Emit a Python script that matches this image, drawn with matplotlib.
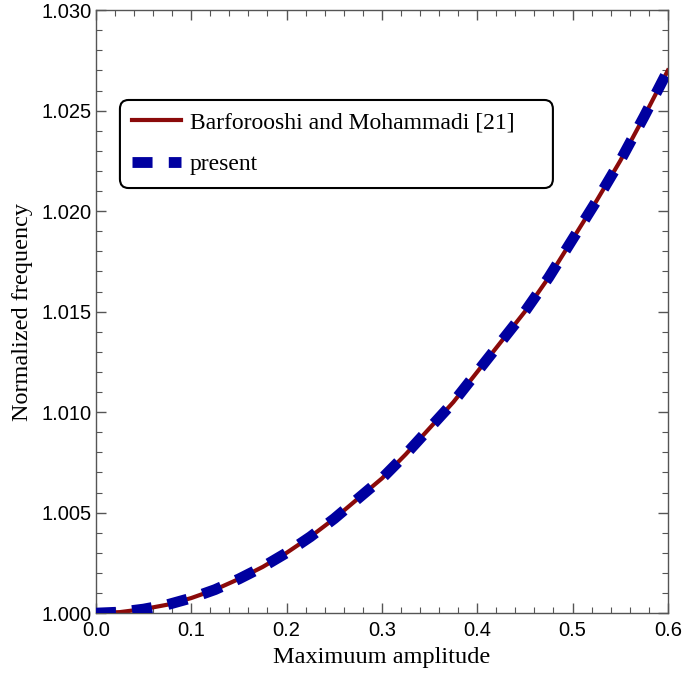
import matplotlib
matplotlib.use("Agg")
import matplotlib.pyplot as plt
from matplotlib.patches import FancyBboxPatch
from matplotlib.ticker import MultipleLocator, FormatStrFormatter

amplitude = [0.0, 0.025, 0.05, 0.075, 0.1, 0.125, 0.15, 0.175, 0.2, 0.225, 0.25, 0.275,
             0.3, 0.325, 0.35, 0.375, 0.4, 0.425, 0.45, 0.475, 0.5, 0.525, 0.55, 0.575, 0.6]
freq_ref = [1.0000, 1.00005, 1.0002, 1.00042, 1.00075, 1.00117, 1.0017, 1.0023, 1.0030,
            1.0038, 1.0047, 1.0057, 1.0067, 1.0079, 1.0092, 1.0105, 1.0120, 1.0135,
            1.0150, 1.0167, 1.0186, 1.0205, 1.0225, 1.0247, 1.0270]
freq_present = list(freq_ref)

label_ref = "Barforooshi and Mohammadi [21]"
label_present = "present"

fig = plt.figure(figsize=(6.85, 6.76), dpi=100)
ax = fig.add_axes([0.140, 0.093, 0.835, 0.892])

ax.plot(amplitude, freq_ref, color="#8b0a0a", lw=3.0, label=label_ref, zorder=2)
ax.plot(amplitude, freq_present, color="#0000a0", lw=7.8, ls=(0, (1.85, 1.5)),
        dash_capstyle="butt", label=label_present, zorder=3)

ax.set_xlim(0, 0.6)
ax.set_ylim(1.0, 1.03)
ax.xaxis.set_major_locator(MultipleLocator(0.1))
ax.xaxis.set_minor_locator(MultipleLocator(0.02))
ax.yaxis.set_major_locator(MultipleLocator(0.005))
ax.yaxis.set_minor_locator(MultipleLocator(0.001))
ax.xaxis.set_major_formatter(FormatStrFormatter("%.1f"))
ax.yaxis.set_major_formatter(FormatStrFormatter("%.3f"))

ax.tick_params(which="both", direction="in", top=True, right=True, color="#555555")
ax.tick_params(which="major", length=7, width=1.0, labelsize=14.5)
ax.tick_params(axis="x", which="major", pad=6)
ax.tick_params(axis="y", which="major", pad=3)
ax.tick_params(which="minor", length=4, width=0.8)
for lab in ax.get_xticklabels() + ax.get_yticklabels():
    lab.set_family("Liberation Sans")
for s in ax.spines.values():
    s.set_color("#555555")
    s.set_linewidth(1.0)

ax.set_xlabel("Maximuum amplitude", family="Liberation Serif", fontsize=17.5, labelpad=5)
ax.set_ylabel("Normalized frequency", family="Liberation Serif", fontsize=17.5, labelpad=6)

# legend frame (rounded box, wider than the entries as in the reference)
frame = FancyBboxPatch((0.042, 0.705), 0.757, 0.146, transform=ax.transAxes,
                       boxstyle="round,pad=0,rounding_size=0.015",
                       facecolor="white", edgecolor="black", lw=1.5, zorder=4)
ax.add_patch(frame)

leg = ax.legend(loc="upper left", bbox_to_anchor=(0.042, 0.851), borderaxespad=0,
                frameon=False, prop={"family": "Liberation Serif", "size": 17},
                handlelength=2.1, borderpad=0.5, labelspacing=0.85, handletextpad=0.35)
leg.set_zorder(5)

fig.savefig("out.png", dpi=100)
